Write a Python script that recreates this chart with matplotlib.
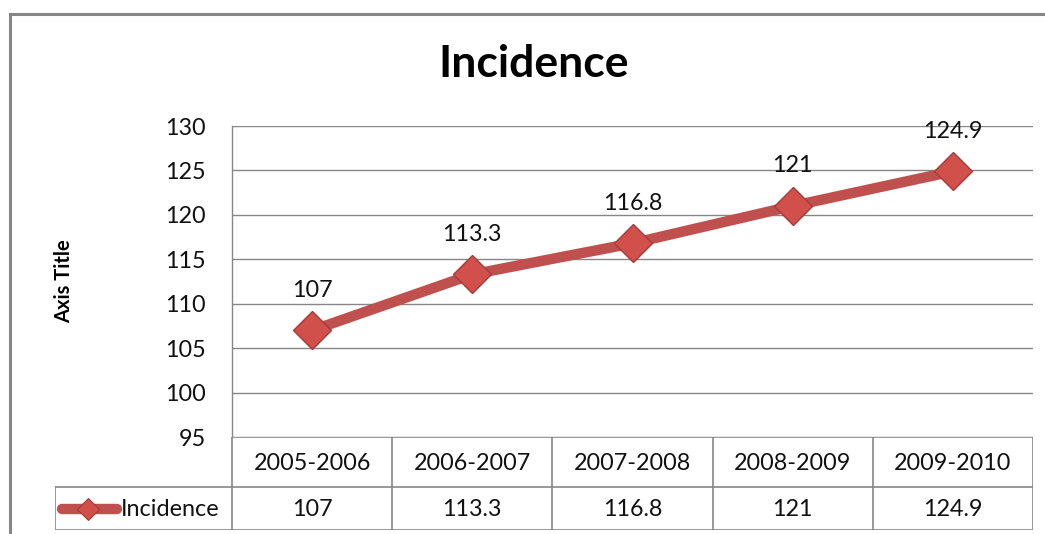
import matplotlib.pyplot as plt
from matplotlib.lines import Line2D
from matplotlib.patches import Rectangle

periods = ["2005-2006", "2006-2007", "2007-2008", "2008-2009", "2009-2010"]
incidence = [107, 113.3, 116.8, 121, 124.9]
labels = ["107", "113.3", "116.8", "121", "124.9"]
series_name = "Incidence"
yticks = [95, 100, 105, 110, 115, 120, 125, 130]

plt.rcParams['font.family'] = ['Lato', 'DejaVu Sans']

W, H = 1045, 534
red = '#C0504D'
grid = '#868686'
fs = 16.8

fig = plt.figure(figsize=(W / 100, H / 100), dpi=100)

def fx(px):
    return px / W

def fy(py):
    return 1 - py / H

# outer chart border
fig.add_artist(Rectangle((fx(10), fy(600)), fx(1100), (600 - 14) / H,
                         transform=fig.transFigure, fill=False,
                         edgecolor=grid, lw=2.2))

left, right, top, bottom = 232, 1033, 126, 437
ax = fig.add_axes([fx(left), fy(bottom), fx(right - left), (bottom - top) / H])

x = list(range(len(periods)))
ax.plot(x, incidence, color=red, lw=7.5, solid_capstyle='round', zorder=3,
        marker='D', markersize=19, markerfacecolor='#D2504C',
        markeredgecolor='#A33B38', markeredgewidth=1)
for xi, v, t in zip(x, incidence, labels):
    ax.annotate(t, (xi, v), xytext=(0, 29), textcoords='offset points',
                ha='center', va='center', fontsize=fs, color='#111111')

ax.set_xlim(-0.5, len(periods) - 0.5)
ax.set_ylim(95, 130)
ax.set_yticks(yticks)
ax.set_xticks([])
ax.yaxis.grid(True, color=grid, lw=1)
ax.set_axisbelow(True)
for s in ['top', 'right', 'bottom']:
    ax.spines[s].set_visible(False)
ax.spines['left'].set_color(grid)
ax.spines['left'].set_linewidth(1)
ax.tick_params(axis='y', length=0, pad=19, labelsize=fs, labelcolor='#111111')
ax.set_ylabel("Axis Title", fontsize=14.5, fontweight='bold')
ax.yaxis.set_label_coords((74 - left) / (right - left), 0.5)

fig.text(fx(534), fy(64), "Incidence", ha='center', va='center',
         fontsize=32, fontweight='bold')

# data table below the plot
tleft, tbottom = 55, 530
tax = fig.add_axes([fx(tleft), fy(tbottom), fx(right - tleft), (tbottom - bottom) / H])
tax.set_xlim(tleft, right)
tax.set_ylim(tbottom, bottom)
tax.axis('off')
mid = 487
colw = (right - left) / len(periods)
lc = dict(color=grid, lw=1.2)
tax.plot([left, right], [bottom, bottom], **lc)
tax.plot([tleft, right], [mid, mid], **lc)
tax.plot([tleft, right], [tbottom, tbottom], **lc)
tax.plot([tleft, tleft], [mid, tbottom], **lc)
for i in range(len(periods) + 1):
    xv = left + i * colw
    tax.plot([xv, xv], [bottom, tbottom], **lc)
for i, (p, t) in enumerate(zip(periods, labels)):
    cx = left + (i + 0.5) * colw
    tax.text(cx, (bottom + mid) / 2 + 1, p, ha='center', va='center',
             fontsize=fs, color='#111111')
    tax.text(cx, (mid + tbottom) / 2 + 1, t, ha='center', va='center',
             fontsize=fs, color='#111111')
# legend key
tax.add_line(Line2D([62, 117], [508.5, 508.5], color=red, lw=7.5,
                    solid_capstyle='round'))
tax.add_line(Line2D([88], [508.5], marker='D', markersize=11,
                    markerfacecolor='#D2504C', markeredgecolor='#A33B38',
                    markeredgewidth=0.8, lw=0))
tax.text(121, 509, series_name, ha='left', va='center', fontsize=fs,
         color='#111111')

fig.savefig('out.png', dpi=100)
